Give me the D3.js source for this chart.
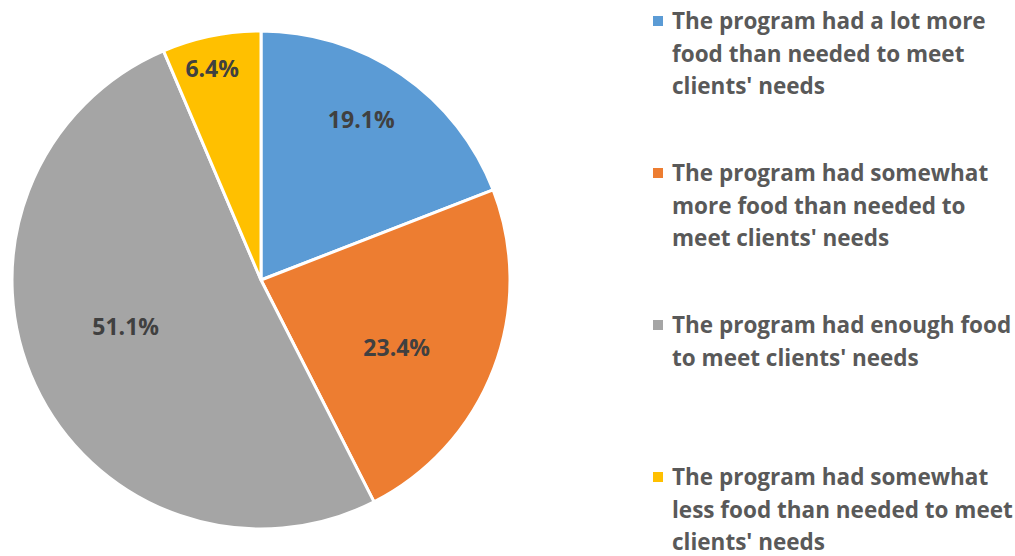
<!DOCTYPE html>
<html>
<head>
<meta charset="utf-8">
<script src="https://cdn.jsdelivr.net/npm/d3@7"></script>
<style>
  body { margin: 0; background: #fff; }
  svg { display: block; }
</style>
</head>
<body>
<div id="chart"></div>
<script>
const categories = [
  ['The program had a lot more', 'food than needed to meet', "clients' needs"],
  ['The program had somewhat', 'more food than needed to', "meet clients' needs"],
  ['The program had enough food', "to meet clients' needs"],
  ['The program had somewhat', 'less food than needed to meet', "clients' needs"]
];
const values = [19.1, 23.4, 51.1, 6.4];
const colors = ['#5B9BD5', '#ED7D31', '#A5A5A5', '#FFC000'];

const width = 1015;
const height = 556;
const cx = 261, cy = 280, radius = 249;

const svg = d3.select('#chart').append('svg')
  .attr('width', width)
  .attr('height', height);

const pie = d3.pie().sort(null).value(d => d);
const arcs = pie(values);

const arc = d3.arc().innerRadius(0).outerRadius(radius);

const g = svg.append('g').attr('transform', `translate(${cx},${cy})`);

g.selectAll('.slice')
  .data(arcs)
  .enter()
  .append('path')
  .attr('class', 'slice')
  .attr('d', arc)
  .attr('fill', (d, i) => colors[i])
  .attr('stroke', '#fff')
  .attr('stroke-width', 3)
  .attr('stroke-linejoin', 'round');

// excel "best fit" puts each label a bit differently: tweak angle (deg) and radius ratio
const labelTweak = [
  { da: -2.4, r: 0.76 },
  { da: 5.8, r: 0.61 },
  { da: 6, r: 0.575 },
  { da: -1.5, r: 0.87 }
];

g.selectAll('.pct')
  .data(arcs)
  .enter()
  .append('text')
  .attr('class', 'pct')
  .attr('transform', (d, i) => {
    const a = (d.startAngle + d.endAngle) / 2 + labelTweak[i].da * Math.PI / 180;
    const r = radius * labelTweak[i].r;
    return `translate(${r * Math.sin(a)},${-r * Math.cos(a)})`;
  })
  .attr('dy', '.35em')
  .attr('text-anchor', 'middle')
  .style('font-family', '"Open Sans", Lato, sans-serif')
  .style('font-weight', 'bold')
  .style('font-size', '23px')
  .style('fill', '#404040')
  .text(d => d.value.toFixed(1) + '%');

const legend = svg.append('g').attr('transform', 'translate(653,29)');

const item = legend.selectAll('.legend-item')
  .data(categories)
  .enter()
  .append('g')
  .attr('class', 'legend-item')
  .attr('transform', (d, i) => `translate(0,${i * 152})`);

item.append('rect')
  .attr('x', 0)
  .attr('y', -13)
  .attr('width', 10)
  .attr('height', 10)
  .attr('fill', (d, i) => colors[i]);

item.append('text')
  .attr('x', 19)
  .style('font-family', '"Open Sans", Lato, sans-serif')
  .style('font-weight', 'bold')
  .style('font-size', '22.5px')
  .style('fill', '#595959')
  .selectAll('tspan')
  .data(d => d)
  .enter()
  .append('tspan')
  .attr('x', 19)
  .attr('dy', (d, i) => i === 0 ? 0 : 32.5)
  .text(d => d);
</script>
</body>
</html>
